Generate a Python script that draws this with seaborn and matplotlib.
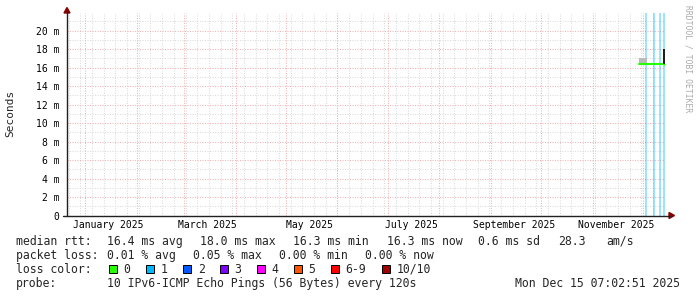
import numpy as np
import pandas as pd
import matplotlib
matplotlib.use("Agg")
import matplotlib.pyplot as plt
import matplotlib.dates as mdates
from matplotlib.patches import Rectangle, Polygon
from matplotlib.ticker import FuncFormatter, MultipleLocator
import seaborn as sns

# ---------------- data ----------------
median_times = ["2025-11-28 14:00", "2025-12-03 12:00", "2025-12-08 00:00",
                "2025-12-12 22:00", "2025-12-14 03:00"]
median_ms = [16.4, 16.4, 16.4, 16.4, 16.3]

smoke_times = ["2025-11-28 14:00", "2025-12-03 10:00"]
smoke_low_ms = [16.3, 16.3]
smoke_high_ms = [17.1, 17.1]

spike_times = ["2025-12-12 21:00", "2025-12-14 03:00"]
spike_low_ms = [16.4, 16.4]
spike_high_ms = [18.0, 18.0]

loss_start = ["2025-12-02 04:00", "2025-12-07 02:00", "2025-12-10 07:00", "2025-12-13 02:00"]
loss_end = ["2025-12-03 15:00", "2025-12-07 22:00", "2025-12-11 17:00", "2025-12-13 22:00"]
loss_count = [1, 1, 1, 1]

x_start, x_end = "2024-12-21 01:00", "2025-12-14 03:00"
y_max_ms = 21.92

xtick_dates = ["2025-01-15", "2025-03-15", "2025-05-15", "2025-07-15", "2025-09-15", "2025-11-15"]
xtick_labels = ["January 2025", "March 2025", "May 2025", "July 2025", "September 2025", "November 2025"]

loss_labels = ["0", "1", "2", "3", "4", "5", "6-9", "10/10"]
loss_colors = ["#26ff00", "#00b8ff", "#0059ff", "#7e00ff", "#ff00ff", "#ff5500", "#ff0000", "#a10000"]

rtt_row = [("median rtt:", 16), ("16.4 ms avg", 107.3), ("18.0 ms max", 200), ("16.3 ms min", 293.3),
           ("16.3 ms now", 386.7), ("0.6 ms sd", 478.3), ("28.3", 558.3), ("am/s", 606.7)]
loss_row = [("packet loss:", 16), ("0.01 % avg", 107.3), ("0.05 % max", 193.3),
            ("0.00 % min", 279.3), ("0.00 % now", 365)]
probe_text = "10 IPv6-ICMP Echo Pings (56 Bytes) every 120s"
stamp_text = "Mon Dec 15 07:02:51 2025"

# ---------------- figure ----------------
sns.set_style("white")
MONO = ["DejaVu Sans Mono"]
plt.rcParams["font.family"] = MONO

W, H = 697, 297
fig = plt.figure(figsize=(W / 100, H / 100), dpi=100)
fig.patch.set_facecolor("white")

def fx(px):
    return px / W

def fy(py):
    return 1 - py / H

ax_left, ax_right, ax_bottom, ax_top = 67, 665, 215.5, 13
ax = fig.add_axes([fx(ax_left), fy(ax_bottom), (ax_right - ax_left) / W, (ax_bottom - ax_top) / H])
ax.set_facecolor("white")

xs, xe = pd.Timestamp(x_start), pd.Timestamp(x_end)
ax.set_xlim(xs, xe)
ax.set_ylim(0, y_max_ms / 1000)

# grid
minor_c, major_c = "#dcdcdc", "#f0b4b4"
dash = (0, (1.0, 1.4))
for d in pd.date_range("2024-12-22", xe, freq="7D"):
    ax.axvline(d, color=minor_c, lw=0.75, ls=dash, zorder=0)
for d in pd.date_range("2025-01-01", xe, freq="MS"):
    ax.axvline(d, color=major_c, lw=0.75, ls=dash, zorder=0.5)
for v in np.arange(1, 22, 1):
    ax.axhline(v / 1000, color=(major_c if v % 2 == 0 else minor_c), lw=0.75, ls=dash,
               zorder=(0.5 if v % 2 == 0 else 0))

# loss background bars
for s, e, c in zip(loss_start, loss_end, loss_count):
    ax.axvspan(pd.Timestamp(s), pd.Timestamp(e), color=loss_colors[c], alpha=0.38, lw=0, zorder=1)

# smoke
ax.fill_between(pd.to_datetime(smoke_times), np.array(smoke_low_ms) / 1000,
                np.array(smoke_high_ms) / 1000, color="#bbbbbb", lw=0, zorder=2)

# median line
df_med = pd.DataFrame({"time": pd.to_datetime(median_times), "rtt": np.array(median_ms) / 1000})
sns.lineplot(data=df_med, x="time", y="rtt", ax=ax, color="#26ff00", lw=1.5, zorder=3)

# spike
ax.fill_between(pd.to_datetime(spike_times), np.array(spike_low_ms) / 1000,
                np.array(spike_high_ms) / 1000, color="#202020", lw=0, zorder=4)

ax.set_xlabel("")
ax.set_ylabel("")
for sp in ax.spines.values():
    sp.set_visible(False)

ax.set_xticks(pd.to_datetime(xtick_dates))
ax.set_xticklabels(xtick_labels)
ax.yaxis.set_major_locator(MultipleLocator(0.002))
ax.yaxis.set_major_formatter(FuncFormatter(lambda v, p: "0" if abs(v) < 1e-9 else f"{round(v * 1000)} m"))
ax.tick_params(axis="x", length=0, pad=3.5, labelsize=7, colors="black")
ax.tick_params(axis="y", length=0, pad=5.5, labelsize=7, colors="black")
for t in ax.get_xticklabels() + ax.get_yticklabels():
    t.set_family(MONO)

# axis lines with arrows
axis_c = "#202020"
fig.add_artist(plt.Line2D([fx(67), fx(67)], [fy(ax_bottom + 0.5), fy(11)], color=axis_c, lw=1.0,
                          transform=fig.transFigure))
fig.add_artist(plt.Line2D([fx(63), fx(670)], [fy(ax_bottom), fy(ax_bottom)], color=axis_c, lw=1.0,
                          transform=fig.transFigure))
arrow_c = "#8b0000"
fig.add_artist(Polygon([[fx(64), fy(13)], [fx(70), fy(13)], [fx(67), fy(7.5)]], closed=True,
                       color=arrow_c, transform=fig.transFigure))
fig.add_artist(Polygon([[fx(669), fy(ax_bottom - 3)], [fx(669), fy(ax_bottom + 3)], [fx(674.5), fy(ax_bottom)]],
                       closed=True, color=arrow_c, transform=fig.transFigure))

# y label and watermark
fig.text(fx(10), fy(113), "Seconds", rotation=90, ha="center", va="center", size=8, family=MONO)
fig.text(fx(688), fy(5), "RRDTOOL / TOBI OETIKER", rotation=-90, ha="center", va="top",
         size=5.8, family=MONO, color="#aaaaaa")

# legend rows
FS = 8.3
for s, x in rtt_row:
    fig.text(fx(x), fy(245), s, ha="left", va="baseline", size=FS, family=MONO)
for s, x in loss_row:
    fig.text(fx(x), fy(259), s, ha="left", va="baseline", size=FS, family=MONO)
fig.text(fx(16), fy(273), "loss color:", ha="left", va="baseline", size=FS, family=MONO)
xpos = 108.7
for lab, col in zip(loss_labels, loss_colors):
    fig.add_artist(Rectangle((fx(xpos), fy(273.3)), 8 / W, 8 / H, facecolor=col, edgecolor="black",
                             lw=0.7, transform=fig.transFigure))
    fig.text(fx(xpos + 15), fy(273), lab, ha="left", va="baseline", size=FS, family=MONO)
    xpos += 30 + 7 * len(lab)
fig.text(fx(16), fy(287), "probe:", ha="left", va="baseline", size=FS, family=MONO)
fig.text(fx(107.3), fy(287), probe_text, ha="left", va="baseline", size=FS, family=MONO)
fig.text(fx(680), fy(287), stamp_text, ha="right", va="baseline", size=FS, family=MONO)

fig.savefig("out.png", dpi=100)
